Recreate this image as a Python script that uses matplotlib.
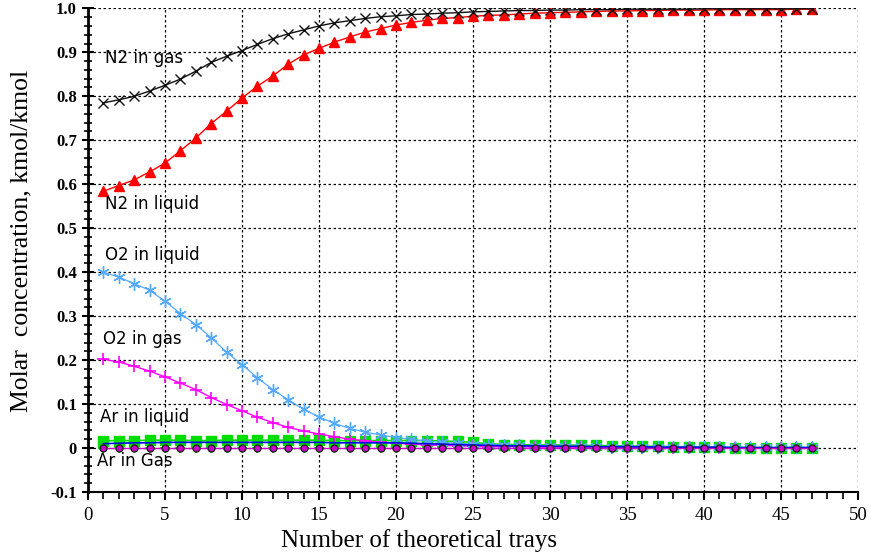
import numpy as np
import matplotlib
matplotlib.use("Agg")
import matplotlib.pyplot as plt
from matplotlib.ticker import MultipleLocator

trays = list(range(1, 48))

n2_gas = [0.785, 0.792, 0.800, 0.812, 0.825, 0.839, 0.857, 0.877, 0.891, 0.904,
          0.918, 0.931, 0.942, 0.951, 0.960, 0.967, 0.972, 0.977, 0.981, 0.983,
          0.986, 0.987, 0.989, 0.990, 0.992, 0.993, 0.994, 0.995, 0.995, 0.996,
          0.996, 0.997, 0.997, 0.997, 0.998, 0.998, 0.998, 0.998, 0.998, 0.999,
          0.999, 0.999, 0.999, 0.999, 0.999, 0.999, 0.999]

n2_liquid = [0.584, 0.597, 0.610, 0.628, 0.648, 0.676, 0.705, 0.738, 0.766, 0.796,
             0.823, 0.846, 0.873, 0.894, 0.909, 0.923, 0.935, 0.946, 0.954, 0.962,
             0.968, 0.973, 0.977, 0.979, 0.982, 0.984, 0.985, 0.987, 0.989, 0.990,
             0.991, 0.992, 0.993, 0.994, 0.994, 0.995, 0.995, 0.996, 0.996, 0.996,
             0.997, 0.997, 0.997, 0.997, 0.997, 0.998, 0.998]

o2_liquid = [0.400, 0.389, 0.374, 0.359, 0.334, 0.306, 0.281, 0.251, 0.218, 0.190,
             0.160, 0.133, 0.110, 0.088, 0.071, 0.056, 0.045, 0.036, 0.030, 0.024,
             0.020, 0.016, 0.013, 0.011, 0.009, 0.008, 0.007, 0.006, 0.005, 0.005,
             0.004, 0.004, 0.004, 0.003, 0.003, 0.003, 0.003, 0.002, 0.002, 0.002,
             0.002, 0.002, 0.002, 0.002, 0.002, 0.002, 0.002]

o2_gas = [0.202, 0.196, 0.186, 0.175, 0.162, 0.148, 0.133, 0.115, 0.099, 0.085,
          0.070, 0.058, 0.047, 0.039, 0.032, 0.026, 0.020, 0.017, 0.013, 0.011,
          0.009, 0.007, 0.006, 0.005, 0.004, 0.003, 0.003, 0.003, 0.002, 0.002,
          0.002, 0.002, 0.002, 0.001, 0.001, 0.001, 0.001, 0.001, 0.001, 0.001,
          0.001, 0.001, 0.001, 0.001, 0.001, 0.001, 0.001]

ar_liquid = [0.017, 0.017, 0.017, 0.018, 0.018, 0.018, 0.017, 0.017, 0.018, 0.018,
             0.018, 0.018, 0.018, 0.018, 0.018, 0.017, 0.017, 0.017, 0.017, 0.017,
             0.017, 0.017, 0.016, 0.015, 0.013, 0.010, 0.008, 0.008, 0.007, 0.007,
             0.007, 0.006, 0.006, 0.005, 0.005, 0.004, 0.004, 0.003, 0.003, 0.002,
             0.002, 0.001, 0.001, 0.001, 0.001, 0.001, 0.001]

ar_gas = [0.010, 0.011, 0.012, 0.012, 0.013, 0.013, 0.013, 0.013, 0.013, 0.013,
          0.013, 0.013, 0.013, 0.013, 0.013, 0.012, 0.012, 0.012, 0.012, 0.012,
          0.011, 0.010, 0.009, 0.008, 0.007, 0.006, 0.005, 0.005, 0.005, 0.004,
          0.004, 0.004, 0.003, 0.003, 0.003, 0.003, 0.002, 0.002, 0.002, 0.002,
          0.002, 0.001, 0.001, 0.001, 0.001, 0.001, 0.001]

trace_a = [0.0] * 47
trace_b = [0.0] * 47

labels = ["N2 in gas", "N2 in liquid", "O2 in liquid", "O2 in gas", "Ar in liquid", "Ar in Gas"]
label_pos = [(1.1, 0.888), (1.1, 0.554), (1.1, 0.438), (1.0, 0.249), (0.78, 0.070), (0.58, -0.030)]

fig = plt.figure(figsize=(8.71, 5.56), dpi=100)
ax = fig.add_axes([0.101, 0.115, 0.884, 0.870])

ax.plot(trays, trace_b, color="#22dd22", marker="+", ms=7, mew=1.5, lw=0, zorder=3)
ax.plot(trays, ar_liquid, color="#00dd00", marker="s", ms=6.5, lw=1.2, zorder=4)
ax.plot(trays, ar_gas, color="#0000ee", lw=1.2, zorder=5)
ax.plot(trays, trace_a, color="#cc00cc", marker="o", ms=5, mec="#222222", mew=1.0, lw=1.0, zorder=6)
ax.plot(trays, o2_gas, color="#ff00ff", marker="+", ms=8, mew=1.2, lw=1.0, zorder=4)
ax.plot(trays, o2_liquid, color="#55aaff", marker=(6, 2, 0), ms=9, mew=1.0, lw=0.9, zorder=4)
ax.plot(trays, n2_liquid, color="#ff0000", marker="^", ms=6.5, lw=1.0, zorder=4)
ax.plot(trays, n2_gas, color="#111111", marker="x", ms=7, mew=1.0, lw=1.0, zorder=4)

ax.set_xlim(0, 50)
ax.set_ylim(-0.1, 1.0)
ax.xaxis.set_major_locator(MultipleLocator(5))
ax.xaxis.set_minor_locator(MultipleLocator(1))
ax.yaxis.set_major_locator(MultipleLocator(0.1))
ax.yaxis.set_minor_locator(MultipleLocator(0.02))

ax.grid(True, which="major", color="black", linestyle=(0, (2, 2)), linewidth=0.9)
for s in ["top", "right"]:
    ax.spines[s].set_visible(False)
ax.spines["left"].set_linewidth(2.0)
ax.spines["bottom"].set_linewidth(1.5)

ax.tick_params(axis="y", which="major", direction="inout", length=9, width=1.5)
ax.tick_params(axis="y", which="minor", direction="inout", length=6, width=1.2)
ax.tick_params(axis="x", which="major", direction="out", length=6, width=1.5, pad=5)
ax.tick_params(axis="x", which="minor", direction="out", length=5, width=1.2)

ax.set_yticks([-0.1, 0, 0.1, 0.2, 0.3, 0.4, 0.5, 0.6, 0.7, 0.8, 0.9, 1.0])
ax.set_yticklabels(["-0.1", "0", "0.1", "0.2", "0.3", "0.4", "0.5", "0.6", "0.7", "0.8", "0.9", "1.0"],
                   fontfamily="Liberation Serif", fontweight="bold", fontsize=12)
for lab in ax.get_xticklabels():
    lab.set_fontfamily("Liberation Serif")
    lab.set_fontsize(13.5)

ax.set_xlabel("Number of theoretical trays", fontfamily="Liberation Serif", fontsize=18, va="center")
ax.xaxis.set_label_coords(0.43, -0.1)
ax.set_ylabel("Molar  concentration, kmol/kmol", fontfamily="Liberation Serif", fontsize=18.5, va="center")
ax.yaxis.set_label_coords(-0.087, 0.52)

for t, (lx, ly) in zip(labels, label_pos):
    ax.text(lx, ly, t, fontfamily="DejaVu Sans", fontsize=12, va="center", ha="left", zorder=10)

fig.savefig("out.png", dpi=100)
